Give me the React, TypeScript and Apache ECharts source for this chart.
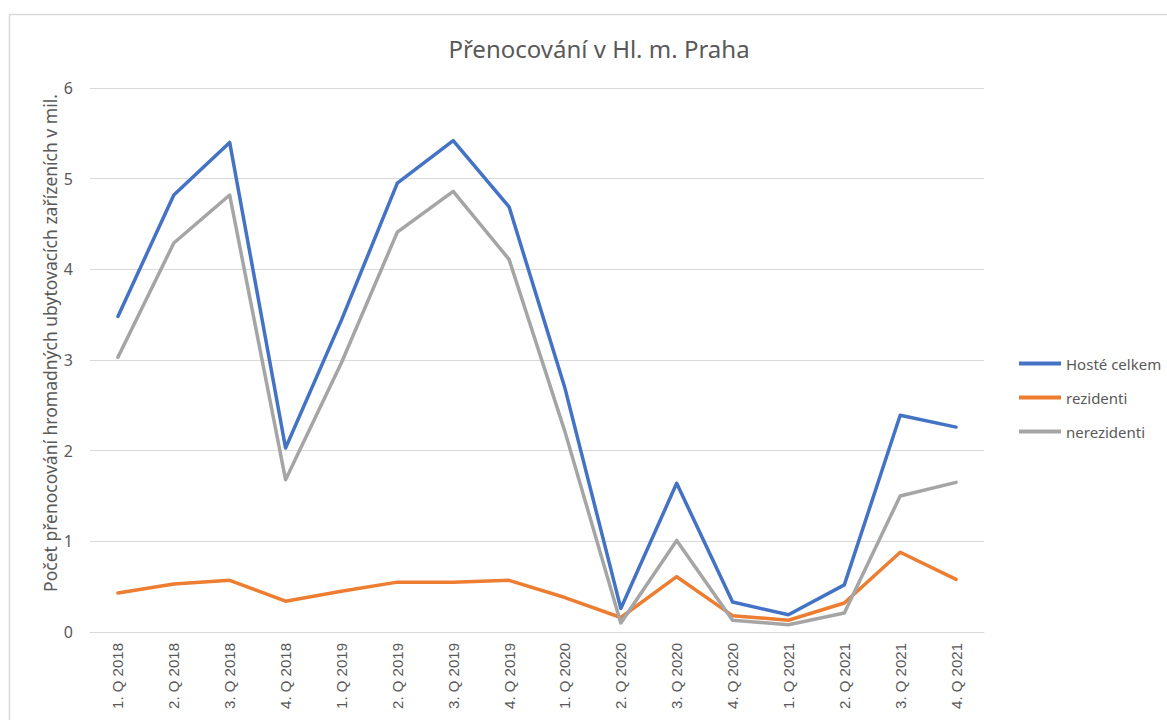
import React, { useEffect, useRef } from "react";
import * as echarts from "echarts";

const categories = [
  "1. Q 2018", "2. Q 2018", "3. Q 2018", "4. Q 2018",
  "1. Q 2019", "2. Q 2019", "3. Q 2019", "4. Q 2019",
  "1. Q 2020", "2. Q 2020", "3. Q 2020", "4. Q 2020",
  "1. Q 2021", "2. Q 2021", "3. Q 2021", "4. Q 2021",
];

const hosteCelkem = [3.48, 4.82, 5.4, 2.03, 3.44, 4.95, 5.42, 4.69, 2.69, 0.26, 1.64, 0.33, 0.19, 0.52, 2.39, 2.26];
const rezidenti = [0.43, 0.53, 0.57, 0.34, 0.45, 0.55, 0.55, 0.57, 0.38, 0.16, 0.61, 0.18, 0.13, 0.32, 0.88, 0.58];
const nerezidenti = [3.03, 4.29, 4.82, 1.68, 2.97, 4.41, 4.86, 4.11, 2.21, 0.1, 1.01, 0.13, 0.08, 0.21, 1.5, 1.65];

const yTicks = { min: 0, max: 6, interval: 1 };

const TEXT = "#595959";
const FONT = "'Noto Sans', 'Open Sans', sans-serif";

export default function App() {
  const ref = useRef<HTMLDivElement>(null);

  useEffect(() => {
    document.body.style.margin = "0";
    if (!ref.current) return;
    const chart = echarts.init(ref.current, null, { renderer: "svg" });
    const mkLine = (name: string, data: number[], color: string) => ({
      name,
      type: "line",
      data,
      symbol: "none",
      showSymbol: false,
      lineStyle: { color, width: 3.5, cap: "round", join: "round" },
      itemStyle: { color },
    });
    chart.setOption({
      animation: false,
      backgroundColor: "#ffffff",
      title: {
        text: "Přenocování v Hl. m. Praha",
        left: 594,
        top: 31,
        textAlign: "center",
        textStyle: { color: TEXT, fontSize: 24, fontWeight: "normal", fontFamily: FONT },
      },
      legend: {
        orient: "vertical",
        left: 1014,
        top: 351,
        icon: "rect",
        itemWidth: 42,
        itemHeight: 4,
        itemGap: 19,
        itemStyle: { borderWidth: 0 },
        textStyle: { color: TEXT, fontSize: 15, fontFamily: FONT, padding: [0, 0, 0, 0] },
        data: ["Hosté celkem", "rezidenti", "nerezidenti"],
      },
      grid: { left: 90, right: 183, top: 88, bottom: 88, containLabel: false },
      xAxis: {
        type: "category",
        data: categories,
        boundaryGap: true,
        axisLine: { show: true, lineStyle: { color: "#d9d9d9", width: 1 } },
        axisTick: { show: false },
        axisLabel: {
          rotate: 90,
          color: TEXT,
          fontSize: 15,
          fontFamily: "'Liberation Sans', Arial, sans-serif",
          margin: 11,
          interval: 0,
        },
      },
      yAxis: {
        type: "value",
        min: yTicks.min,
        max: yTicks.max,
        interval: yTicks.interval,
        axisLine: { show: false },
        axisTick: { show: false },
        splitLine: { lineStyle: { color: "#d9d9d9", width: 1 } },
        axisLabel: { color: TEXT, fontSize: 16, fontFamily: FONT, margin: 17 },
      },
      graphic: [
        {
          type: "rect",
          silent: true,
          shape: { x: 9.5, y: 14.5, width: 1300, height: 900 },
          style: { fill: "none", stroke: "#d9d9d9", lineWidth: 1.5 },
        },
        {
          type: "text",
          x: 50,
          y: 343,
          rotation: Math.PI / 2,
          style: {
            text: "Počet přenocování hromadných ubytovacích zařízeních v mil.",
            fill: TEXT,
            fontSize: 17.5,
            fontFamily: FONT,
            align: "center",
            verticalAlign: "middle",
          },
        },
      ],
      series: [
        mkLine("Hosté celkem", hosteCelkem, "#4472C4"),
        mkLine("rezidenti", rezidenti, "#ED7D31"),
        mkLine("nerezidenti", nerezidenti, "#A5A5A5"),
      ],
    });
    return () => chart.dispose();
  }, []);

  return <div ref={ref} style={{ width: 1167, height: 720 }} />;
}
